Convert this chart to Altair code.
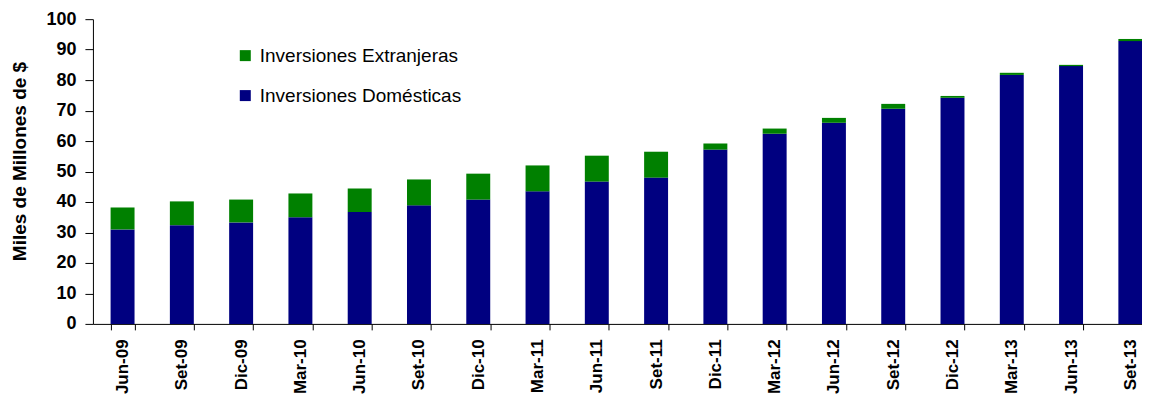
import altair as alt
import pandas as pd

periodos = ["Jun-09", "Set-09", "Dic-09", "Mar-10", "Jun-10", "Set-10", "Dic-10", "Mar-11", "Jun-11",
            "Set-11", "Dic-11", "Mar-12", "Jun-12", "Set-12", "Dic-12", "Mar-13", "Jun-13", "Set-13"]
domesticas = [31.0, 32.4, 33.3, 35.0, 36.7, 38.9, 40.8, 43.5, 46.7,
              48.0, 57.2, 62.4, 66.0, 70.6, 74.2, 81.7, 84.6, 92.8]
extranjeras = [7.2, 7.8, 7.5, 7.8, 7.7, 8.5, 8.5, 8.5, 8.5,
               8.5, 2.0, 1.7, 1.6, 1.6, 0.6, 0.7, 0.4, 0.7]
series = ["Inversiones Extranjeras", "Inversiones Domésticas"]
colores = ["#008000", "#000080"]
y_ticks = list(range(0, 101, 10))

rows = []
for i, p in enumerate(periodos):
    rows.append({"periodo": p, "serie": series[1], "valor": domesticas[i], "orden": 0})
    rows.append({"periodo": p, "serie": series[0], "valor": extranjeras[i], "orden": 1})
df = pd.DataFrame(rows)

FONT = "Liberation Sans"

chart = alt.Chart(df).mark_bar().encode(
    x=alt.X("periodo:N", sort=periodos,
            scale=alt.Scale(range=[0, 1068], paddingInner=0.596, paddingOuter=0.298),
            axis=alt.Axis(title=None, labelAngle=-90, labelAlign="right", labelBaseline="middle",
                          labelFont=FONT, labelFontWeight="bold", labelFontSize=17, labelColor="black",
                          tickBand="extent", tickSize=6, tickColor="black", domainColor="black",
                          labelPadding=9)),
    y=alt.Y("valor:Q", stack="zero", scale=alt.Scale(domain=[0, 100]),
            axis=alt.Axis(title="Miles de Millones de $", values=y_ticks, grid=False,
                          labelFont=FONT, labelFontWeight="bold", labelFontSize=18, labelColor="black",
                          tickSize=8, tickColor="black", domainColor="black", labelPadding=9,
                          titleFont=FONT, titleFontWeight="bold", titleFontSize=19, titleColor="black",
                          titleAngle=270, titleAlign="center", titleBaseline="middle",
                          titleX=-73, titleY=142)),
    color=alt.Color("serie:N", scale=alt.Scale(domain=series, range=colores),
                    legend=alt.Legend(title=None, orient="none", legendX=143, legendY=27,
                                      symbolType="square", symbolSize=121, symbolStrokeWidth=0,
                                      symbolOpacity=1, labelFont=FONT, labelFontSize=19,
                                      labelColor="black", rowPadding=20, padding=0, labelOffset=5,
                                      labelLimit=400)),
    order=alt.Order("orden:Q")
).properties(
    width=1050, height=305,
    autosize=alt.AutoSizeParams(type="none"),
    padding={"left": 85, "top": 11, "right": 0, "bottom": 70}
).configure_view(stroke=None)

chart.save("out.html", embed_options={"renderer": "svg", "actions": False})
